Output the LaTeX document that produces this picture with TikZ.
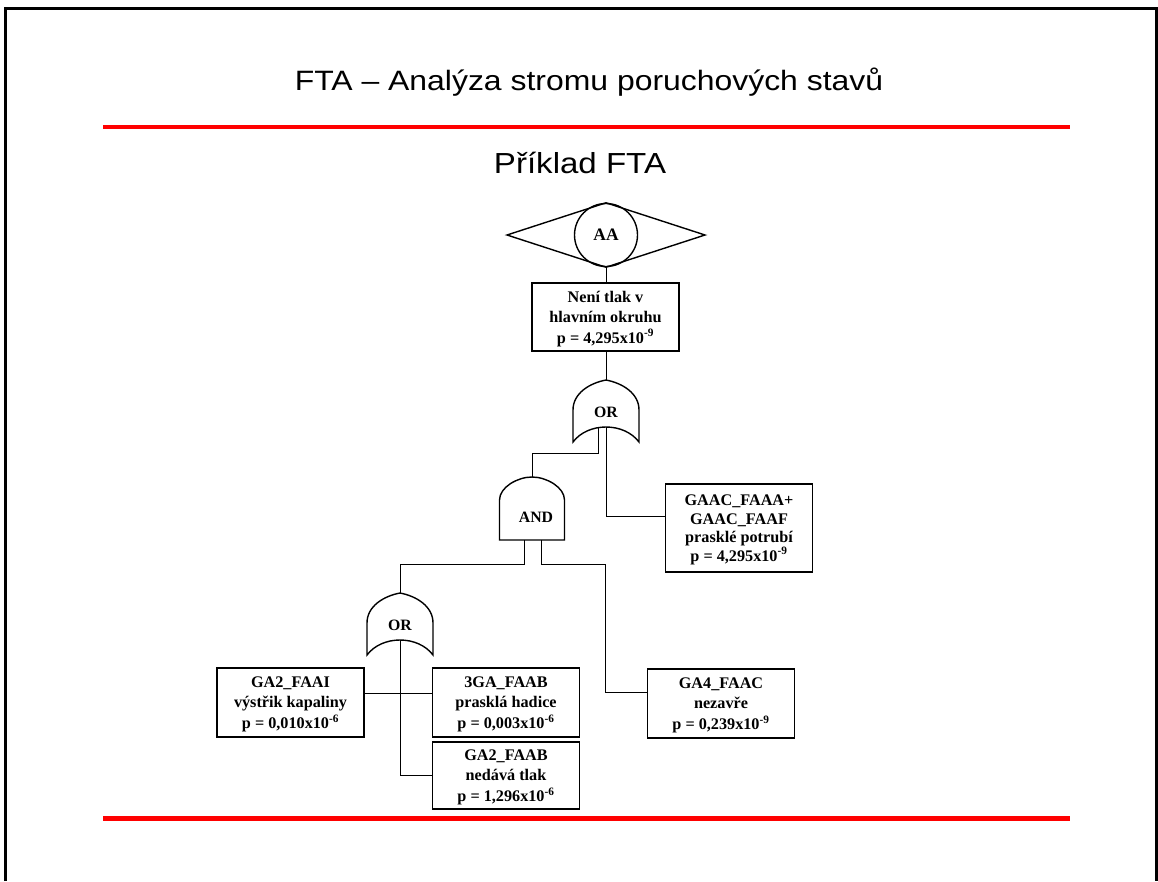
\documentclass[tikz,border=0pt]{standalone}
\usepackage{fontspec}
\setmainfont{Liberation Serif}
\newfontfamily\headfont[FakeStretch=1.14]{Liberation Sans}

\tikzset{
  event/.style={draw, line width=1.5pt, minimum width=147pt, inner sep=0pt, align=center,
    font=\fontsize{16.2}{20.5}\selectfont\bfseries},
  link/.style={line width=1pt},
  gateline/.style={line width=1.4pt},
  gatelbl/.style={font=\fontsize{15.8}{18}\selectfont\bfseries},
  rule/.style={red, line width=4.5pt},
  orgate/.pic={
    \draw[gateline] (-33,30) .. controls (-33,13) and (-16,3) .. (0,0) .. controls (16,3) and (33,13) .. (33,30)
      -- (33,62) .. controls (18,42) and (-18,42) .. (-33,62) -- cycle;
    \coordinate (-top) at (0,0);
    \coordinate (-out) at (0,47);
    \coordinate (-outl) at (-8,47);
    \node[gatelbl] (-lbl) at (0,32) {OR};
  },
  andgate/.pic={
    \draw[gateline] (-32.5,23) .. controls (-32.5,10.3) and (-14.6,0) .. (0,0) .. controls (14.6,0) and (32.5,10.3) .. (32.5,23)
      -- (32.5,63) -- (-32.5,63) -- cycle;
    \coordinate (-top) at (0,0);
    \coordinate (-outl) at (-8,63);
    \coordinate (-outr) at (9,63);
    \node[gatelbl] (-lbl) at (4,40) {AND};
  }
}

\begin{document}
\begin{tikzpicture}[x=1pt,y=-1pt]
\useasboundingbox (0,0) rectangle (1158,881);
% frame and red rules
\draw[line width=3pt] (5,881) -- (5,8) -- (1156.5,8) -- (1156.5,881);
\draw[rule] (103,127) -- (1070,127);
\draw[rule] (103,818.5) -- (1070,818.5);
\node[anchor=base, font=\headfont\fontsize{28}{30}\selectfont] (title) at (589,90) {FTA – Analýza stromu poruchových stavů};
\node[anchor=base, font=\headfont\fontsize{29}{31}\selectfont] (subtitle) at (580,173) {Příklad FTA};

% top event
\node[circle, draw, line width=1.4pt, minimum size=63pt, inner sep=0pt, font=\fontsize{17.5}{20}\selectfont\bfseries] (aa) at (606,235) {AA};
\draw[gateline] ([xshift=-99pt]aa.center) -- (aa.north) -- ([xshift=99pt]aa.center) -- (aa.south) -- cycle;
\node[event, minimum height=68pt, text depth=-9.5pt] (top) at (605.5,317) {Není tlak v\\hlavním okruhu\\p = 4,295x10\textsuperscript{-9}};

% gates
\pic (or1) at (606,380) {orgate};
\pic (and1) at (532,477) {andgate};
\pic (or2) at (400,593) {orgate};

% basic events
\node[event, minimum height=88pt, text depth=-2.5pt, font=\fontsize{16.2}{18.5}\selectfont\bfseries] (gaac) at (739,528) {GAAC\_FAAA+\\GAAC\_FAAF\\prasklé potrubí\\p = 4,295x10\textsuperscript{-9}};
\node[event, minimum height=69pt, text depth=-6.5pt] (faai) at (290.5,702.5) {GA2\_FAAI\\výstřik kapaliny\\p = 0,010x10\textsuperscript{-6}};
\node[event, minimum height=69pt, text depth=-6.5pt] (gab) at (506,702.5) {3GA\_FAAB\\prasklá hadice\\p = 0,003x10\textsuperscript{-6}};
\node[event, minimum height=67pt, text depth=-7.5pt] (gaab) at (506,775.5) {GA2\_FAAB\\nedává tlak\\p = 1,296x10\textsuperscript{-6}};
\node[event, minimum height=69pt, text depth=-3.5pt] (ga4) at (721,703.5) {GA4\_FAAC\\nezavře\\p = 0,239x10\textsuperscript{-9}};

% connectors
\draw[link] (aa.south) -- (aa.south |- top.north);
\draw[link] (or1-top |- top.south) -- (or1-top);
\draw[link] (or1-outl) -- ++(0,26) -| (and1-top);
\draw[link] (or1-out) |- ([yshift=12pt]gaac.west);
\draw[link] (and1-outl) -- ++(0,24) -| (or2-top);
\draw[link] (and1-outr) -- ++(0,24) -| ([xshift=-41pt,yshift=11.5pt]ga4.west) -- ([yshift=11.5pt]ga4.west);
\draw[link] (or2-out) |- (gaab.west);
\draw[link] ([yshift=9pt]faai.east) -- ([yshift=9pt]gab.west);
\end{tikzpicture}
\end{document}
